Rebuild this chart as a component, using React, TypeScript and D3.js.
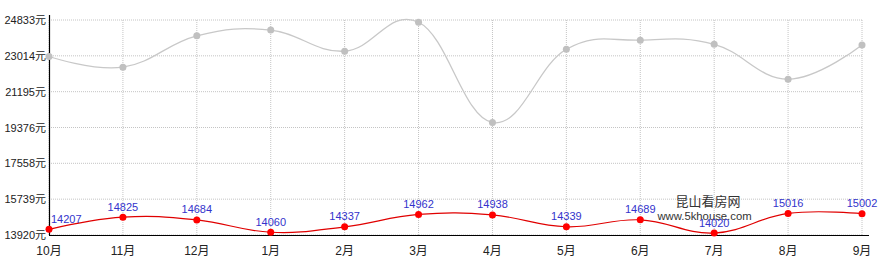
import React from "react";
import * as d3 from "d3";

const categories = ["10月", "11月", "12月", "1月", "2月", "3月", "4月", "5月", "6月", "7月", "8月", "9月"];
const greyValues = [22980, 22440, 24030, 24320, 23250, 24720, 19630, 23350, 23810, 23600, 21830, 23560];
const redValues = [14207, 14825, 14684, 14060, 14337, 14962, 14938, 14339, 14689, 14020, 15016, 15002];
const yTicks = [13920, 15739, 17558, 19376, 21195, 23014, 24833];

const W = 892, H = 270;
const left = 49, right = 862, top = 20, bottom = 235;

export default function App() {
  const x = d3.scalePoint<string>().domain(categories).range([left, right]);
  const y = d3.scaleLinear().domain([13920, 24833]).range([bottom, top]);
  const curve = d3.curveCardinal.tension(-0.2);
  const line = d3.line<number>().x((_, i) => x(categories[i])!).y((d) => y(d)).curve(curve);
  const font = "Arial, 'Liberation Sans', 'Noto Sans CJK SC', sans-serif";

  return (
    <svg width={W} height={H} style={{ position: "absolute", left: 0, top: 0, background: "#fff" }} fontFamily={font}>
      {/* grid */}
      {yTicks.map((t) => (
        <line key={"h" + t} x1={left} x2={right} y1={y(t)} y2={y(t)} stroke="#c4c4c4" strokeDasharray="1,1" />
      ))}
      {categories.map((c) => (
        <line key={"v" + c} x1={x(c)} x2={x(c)} y1={top} y2={bottom} stroke="#c4c4c4" strokeDasharray="1,1" />
      ))}
      {/* axes */}
      <line x1={left + 0.5} x2={left + 0.5} y1={15} y2={bottom} stroke="#000" strokeWidth={1.2} />
      <line x1={left} x2={869} y1={bottom + 0.5} y2={bottom + 0.5} stroke="#000" strokeWidth={1.2} />
      {/* y labels */}
      {yTicks.map((t) => (
        <text key={"yl" + t} x={46} y={y(t) + 4} textAnchor="end" fontSize={11} fill="#222">
          {t + "元"}
        </text>
      ))}
      {/* x labels */}
      {categories.map((c) => (
        <text key={"xl" + c} x={x(c)} y={255} textAnchor="middle" fontSize={12} fill="#222">
          {c}
        </text>
      ))}
      {/* grey series */}
      <path d={line(greyValues)!} fill="none" stroke="#c8c8c8" strokeWidth={1.3} />
      {greyValues.map((v, i) => (
        <circle key={"g" + i} cx={x(categories[i])} cy={y(v)} r={3.5} fill="#c0c0c0" />
      ))}
      {/* watermark */}
      <text x={708} y={206} textAnchor="middle" fontSize={13} fill="#333">昆山看房网</text>
      <text x={704.5} y={219.5} textAnchor="middle" fontSize={11.3} fill="#333">www.5khouse.com</text>
      {/* red series */}
      <path d={line(redValues)!} fill="none" stroke="#e00000" strokeWidth={1.2} />
      {redValues.map((v, i) => (
        <circle key={"r" + i} cx={x(categories[i])} cy={y(v)} r={3.5} fill="#ff0000" />
      ))}
      {redValues.map((v, i) => (
        <text
          key={"rl" + i}
          x={i === 0 ? x(categories[i])! + 2 : x(categories[i])}
          y={y(v) - 6.5}
          textAnchor={i === 0 ? "start" : "middle"}
          fontSize={11}
          fill="#3333cc"
        >
          {v}
        </text>
      ))}
    </svg>
  );
}
